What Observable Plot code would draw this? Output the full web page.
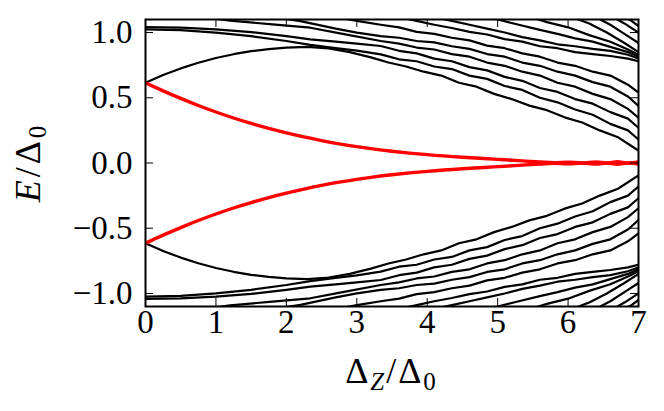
<!DOCTYPE html>
<html><head><meta charset="utf-8">
<script src="https://cdn.jsdelivr.net/npm/d3@7"></script>
<script src="https://cdn.jsdelivr.net/npm/@observablehq/plot@0.6"></script>
<style>
html,body{margin:0;padding:0;background:#fff;}
#chart svg{display:block;}
#chart svg text{font-family:"Liberation Serif","Times New Roman",serif !important;}
</style>
</head><body><div id="chart"></div>
<script>
// ---- tick values & labels ----
const xTicks = [0, 1, 2, 3, 4, 5, 6, 7];
const xTickLabels = ["0", "1", "2", "3", "4", "5", "6", "7"];
const yTicks = [-1, -0.5, 0, 0.5, 1];
const yTickLabels = ["\u22121.0", "\u22120.5", "0.0", "0.5", "1.0"];

// ---- lowest (Majorana) pair, positive branch [Δz/Δ0, E/Δ0] ----
const majorana = [[0,0.615],[0.25,0.553],[0.5,0.495],[0.75,0.441],[1,0.391],[1.25,0.345],[1.5,0.303],[1.75,0.265],[2,0.231],[2.25,0.2],[2.5,0.172],[2.75,0.147],[3,0.125],[3.25,0.106],[3.5,0.09],[3.75,0.076],[4,0.064],[4.5,0.044],[5,0.028],[5.3,0.018],[5.6,0.008],[5.8,0.002],[6.0,0.007],[6.2,0.0],[6.4,0.008],[6.55,0.0],[6.7,0.01],[6.85,0.0],[7,0.008]];

// ---- higher states, positive branch ----
const bandL1 = [[0,0.615],[0.25,0.675],[0.5,0.725],[0.75,0.768],[1,0.805],[1.25,0.834],[1.5,0.857],[1.75,0.873],[2,0.884],[2.3,0.89],[2.6,0.878],[2.9,0.85],[3.2,0.81],[3.45,0.77],[3.7,0.74],[3.95,0.7],[4.2,0.67],[4.45,0.615],[4.7,0.585],[4.95,0.53],[5.2,0.49],[5.45,0.44],[5.7,0.405],[5.95,0.35],[6.2,0.31],[6.45,0.25],[6.7,0.2],[6.9,0.13],[7,0.095]];
const bandA = [[0,1.025],[0.5,1.018],[1,1.0],[1.5,0.972],[2,0.935],[2.34,0.905],[2.7,0.88],[3.0,0.862],[3.34,0.833],[3.6,0.795],[3.85,0.78],[4.1,0.74],[4.35,0.72],[4.6,0.67],[4.85,0.645],[5.1,0.59],[5.35,0.56],[5.6,0.5],[5.85,0.465],[6.1,0.41],[6.35,0.37],[6.6,0.3],[6.85,0.25],[7,0.18]];
const bandB = [[0,1.042],[0.5,1.037],[1,1.025],[1.5,1.003],[2,0.972],[2.34,0.948],[2.7,0.93],[3.0,0.915],[3.34,0.897],[3.6,0.86],[3.85,0.84],[4.1,0.8],[4.35,0.78],[4.6,0.735],[4.85,0.71],[5.1,0.66],[5.35,0.63],[5.6,0.575],[5.85,0.545],[6.1,0.49],[6.35,0.455],[6.6,0.39],[6.85,0.34],[7,0.27]];
const bandC = [[0.8,1.12],[1.2,1.092],[1.8,1.062],[2.34,1.037],[2.8,0.99],[3.34,0.935],[3.6,0.915],[3.85,0.885],[4.1,0.87],[4.35,0.835],[4.6,0.815],[4.85,0.77],[5.1,0.745],[5.35,0.7],[5.6,0.67],[5.85,0.615],[6.1,0.585],[6.35,0.53],[6.6,0.49],[6.85,0.415],[7,0.347]];
const bandD = [[1.8,1.12],[2.2,1.088],[2.7,1.03],[3.0,1.0],[3.34,0.973],[3.6,0.96],[3.85,0.935],[4.1,0.925],[4.35,0.895],[4.6,0.875],[4.85,0.835],[5.1,0.815],[5.35,0.77],[5.6,0.745],[5.85,0.7],[6.1,0.67],[6.35,0.62],[6.6,0.585],[6.85,0.51],[7,0.437]];
const bandE = [[2.6,1.13],[3.0,1.09],[3.34,1.06],[3.6,1.04],[3.85,1.005],[4.1,0.99],[4.35,0.96],[4.6,0.94],[4.85,0.9],[5.1,0.88],[5.35,0.84],[5.6,0.815],[5.85,0.77],[6.1,0.745],[6.35,0.7],[6.6,0.67],[6.85,0.6],[7,0.54]];
const bandF = [[3.5,1.13],[3.85,1.09],[4.1,1.06],[4.35,1.035],[4.6,1.005],[4.85,0.985],[5.1,0.95],[5.35,0.93],[5.6,0.895],[5.85,0.88],[6.1,0.85],[6.35,0.835],[6.6,0.82],[6.85,0.8],[7,0.78]];
const bandG = [[4.0,1.13],[4.35,1.09],[4.6,1.06],[4.85,1.03],[5.1,1.0],[5.35,0.965],[5.6,0.94],[5.85,0.91],[6.1,0.895],[6.35,0.875],[6.6,0.86],[6.85,0.83],[7,0.8]];
const bandH = [[4.7,1.13],[5.0,1.1],[5.3,1.06],[5.6,1.02],[5.85,0.99],[6.1,0.955],[6.35,0.93],[6.6,0.89],[6.85,0.85],[7,0.815]];
const bandI = [[5.4,1.13],[5.7,1.08],[6.0,1.04],[6.3,0.98],[6.6,0.93],[6.85,0.87],[7,0.83]];
const bandJ = [[6.0,1.13],[6.3,1.07],[6.55,1.0],[6.8,0.92],[7,0.85]];
const bandK = [[6.35,1.13],[6.6,1.06],[6.8,0.99],[7,0.92]];
const bandM = [[6.6,1.13],[6.8,1.07],[7,1.0]];
const bandN = [[6.75,1.13],[6.9,1.09],[7,1.05]];

const bands = [bandL1, bandA, bandB, bandC, bandD, bandE, bandF, bandG, bandH, bandI, bandJ, bandK, bandM, bandN];

// particle-hole symmetric spectrum: each state appears at +E and -E
const bandRows = [];
bands.forEach((b, i) => {
  for (const s of [1, -1]) b.forEach(([x, e]) => bandRows.push({id: `b${i}_${s}`, x, e: s * e}));
});
const mzmRows = [];
for (const s of [1, -1]) majorana.forEach(([x, e]) => mzmRows.push({id: `m_${s}`, x, e: s * e}));

const W = 664, H = 411, mL = 145, mR = 26, mT = 19, mB = 105;
const innerW = W - mL - mR, innerH = H - mT - mB, tick = 8;
const font = "Liberation Serif, Times New Roman, serif";
const fs = 33;

const plot = Plot.plot({
  width: W, height: H,
  marginLeft: mL, marginRight: mR, marginTop: mT, marginBottom: mB,
  x: {domain: [0, 7]},
  y: {domain: [-1.1, 1.1]},
  style: {fontFamily: font, fontSize: fs + "px", color: "black", background: "white"},
  marks: [
    Plot.line(bandRows, {x: "x", y: "e", z: "id", stroke: "black", strokeWidth: 2.2, clip: true}),
    Plot.line(mzmRows, {x: "x", y: "e", z: "id", stroke: "#ff0000", strokeWidth: 3.4, curve: "monotone-x", clip: true}),
    // inward ticks on all four sides
    Plot.tickX(xTicks, {x: d => d, insetTop: innerH - tick, stroke: "black", strokeWidth: 1}),
    Plot.tickX(xTicks, {x: d => d, insetBottom: innerH - tick, stroke: "black", strokeWidth: 1}),
    Plot.tickY(yTicks, {y: d => d, insetRight: innerW - tick, stroke: "black", strokeWidth: 1}),
    Plot.tickY(yTicks, {y: d => d, insetLeft: innerW - tick, stroke: "black", strokeWidth: 1}),
    Plot.axisX(xTicks, {tickSize: 0, tickPadding: 3, tickFormat: (d, i) => xTickLabels[i], label: null, fontSize: fs, fontFamily: font, fill: "black"}),
    Plot.axisY(yTicks, {tickSize: 0, tickPadding: 13, tickFormat: (d, i) => yTickLabels[i], label: null, fontSize: fs, fontFamily: font, fill: "black"}),
    Plot.frame({stroke: "black", strokeWidth: 2})
  ]
});
document.getElementById("chart").appendChild(plot);

// axis titles with subscripts
const svg = d3.select(plot);
const xl = svg.append("text").attr("x", mL + innerW / 2).attr("y", 383)
  .attr("text-anchor", "middle").attr("font-size", 36).attr("letter-spacing", 2).attr("fill", "black");
xl.append("tspan").text("Δ");
xl.append("tspan").attr("font-style", "italic").attr("font-size", 25).attr("dy", 7).text("Z");
xl.append("tspan").attr("dy", -7).text("/Δ");
xl.append("tspan").attr("font-size", 25).attr("dy", 7).text("0");

const yl = svg.append("text").attr("transform", `translate(40,${mT + innerH / 2}) rotate(-90)`)
  .attr("text-anchor", "middle").attr("font-size", 36).attr("letter-spacing", 3).attr("fill", "black");
yl.append("tspan").attr("font-style", "italic").text("E");
yl.append("tspan").text("/Δ");
yl.append("tspan").attr("font-size", 25).attr("dy", 6).text("0");
</script>
</body></html>
